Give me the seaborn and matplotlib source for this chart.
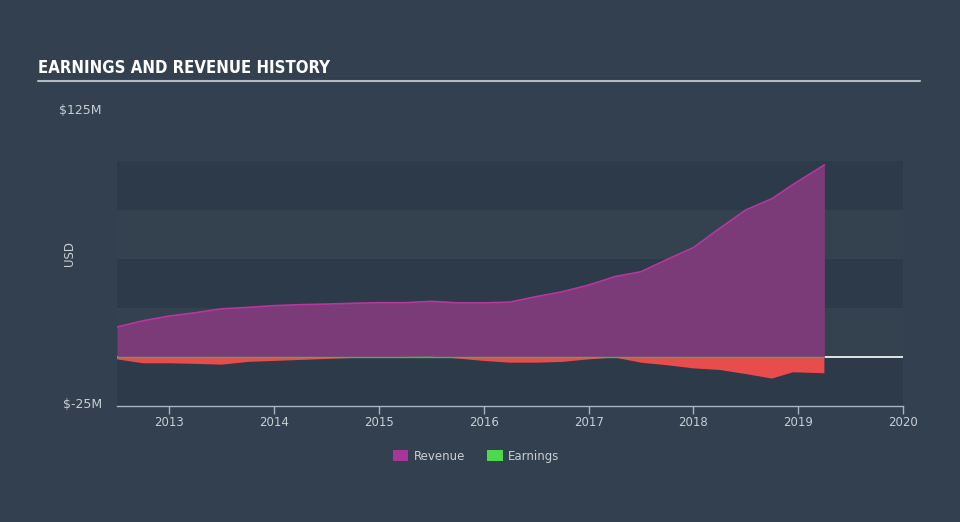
import numpy as np
import pandas as pd
import matplotlib
matplotlib.use("Agg")
import matplotlib.pyplot as plt
import matplotlib.transforms as mtransforms
import seaborn as sns
from matplotlib.patches import Patch

# ---- data (USD millions) ----
years = [2012.5, 2012.75, 2013.0, 2013.25, 2013.5, 2013.75, 2014.0, 2014.25, 2014.5, 2014.75,
         2015.0, 2015.25, 2015.5, 2015.75, 2016.0, 2016.25, 2016.5, 2016.75, 2017.0, 2017.25,
         2017.5, 2017.75, 2018.0, 2018.25, 2018.5, 2018.75, 2018.95, 2019.25]
revenue = [15.3, 18.5, 20.9, 22.6, 24.6, 25.3, 26.2, 26.7, 27.0, 27.4,
           27.7, 27.7, 28.4, 27.6, 27.6, 28.0, 30.8, 33.3, 36.7, 41.0,
           43.5, 49.8, 55.8, 65.6, 75.0, 80.8, 88.0, 98.0]
earnings = [-1.2, -3.2, -3.2, -3.5, -3.9, -2.5, -2.0, -1.5, -1.0, -0.5,
            0.1, 0.3, 0.4, -0.8, -2.0, -2.9, -2.9, -2.5, -1.2, -0.3,
            -2.9, -4.2, -5.8, -6.6, -8.7, -11.0, -7.8, -8.3]
xticks = [2013, 2014, 2015, 2016, 2017, 2018, 2019, 2020]
yticks = [-25, 125]
ytick_labels = ["$-25M", "$125M"]
band_edges = [-25, 0, 25, 50, 75, 100]

df = pd.DataFrame({"year": years, "Revenue": revenue, "Earnings": earnings})

BG = "#33404f"
DARK = "#2d3a49"
LIGHT = "#34424f"
TXT = "#c9ced4"

sns.set_theme(style="dark")
plt.rcParams["font.family"] = ["DejaVu Sans"]

fig = plt.figure(figsize=(9.6, 5.22), dpi=100, facecolor=BG)
ax = fig.add_axes([117/960, 1-406/522, 786/960, 294/522])
ax.set_facecolor("none")

# bands
for i in range(len(band_edges) - 1):
    ax.axhspan(band_edges[i], band_edges[i+1], color=DARK if i % 2 == 0 else LIGHT, lw=0, zorder=0)

ax.axhline(0, color="white", lw=1.2, zorder=1)

x = np.array(years)
r = np.array(revenue)
e = np.array(earnings)

ax.fill_between(x, 0, r, color="#7b3a78", lw=0, zorder=2)
sns.lineplot(data=df, x="year", y="Revenue", ax=ax, color="#b8379f", lw=1.2, zorder=3)
ax.fill_between(x, 0, e, where=e < 0, interpolate=True, color="#e84c4c", lw=0, zorder=2)
ax.fill_between(x, 0, e, where=e >= 0, interpolate=True, color="#4cd84c", lw=0, zorder=2)
ax.plot(x, np.zeros_like(x), color="#4caf50", lw=1.0, zorder=3)

ax.set_xlim(2012.5, 2020.0)
ax.set_ylim(-25, 125)
ax.set_xticks(xticks)
ax.set_xticklabels([str(t) for t in xticks], color=TXT, fontsize=8.5)
ax.set_yticks(yticks)
ax.set_yticklabels(ytick_labels, color=TXT, fontsize=9)
ax.tick_params(axis="x", length=6, color="#aab4c0", width=1, pad=1, direction="out", bottom=True)
ax.tick_params(axis="y", length=0, pad=11)
offset = mtransforms.ScaledTranslation(0, 3/100, fig.dpi_scale_trans)
for lbl in ax.get_yticklabels():
    lbl.set_transform(lbl.get_transform() + offset)
ax.set_xlabel("")
ax.set_ylabel("USD", color=TXT, fontsize=8.5)
ax.yaxis.set_label_coords(-0.052, 0.52)
for s in ["top", "left", "right"]:
    ax.spines[s].set_visible(False)
ax.spines["bottom"].set_visible(True)
ax.spines["bottom"].set_color("#aab4c0")
ax.spines["bottom"].set_linewidth(1)
ax.grid(False)

# title and rule
fig.text(38/960, 1-68/522, "EARNINGS AND REVENUE HISTORY", color="white", fontsize=12,
         fontweight="bold", fontstretch="condensed", family=["DejaVu Sans"], va="center", ha="left")
fig.add_artist(plt.Line2D([38/960, 920/960], [1-81/522, 1-81/522], color="#b4bac1", lw=1.5))

# legend
handles = [Patch(facecolor="#a8359a", edgecolor="none", label="Revenue"),
           Patch(facecolor="#4cd94c", edgecolor="none", label="Earnings")]
leg = fig.legend(handles=handles, loc="center", bbox_to_anchor=(476/960, 1-456/522), ncol=2,
                 frameon=False, fontsize=8.5, handlelength=1.3, handleheight=1.1, columnspacing=1.9,
                 handletextpad=0.45)
for t in leg.get_texts():
    t.set_color(TXT)

fig.savefig("out.png", dpi=100, facecolor=BG)
